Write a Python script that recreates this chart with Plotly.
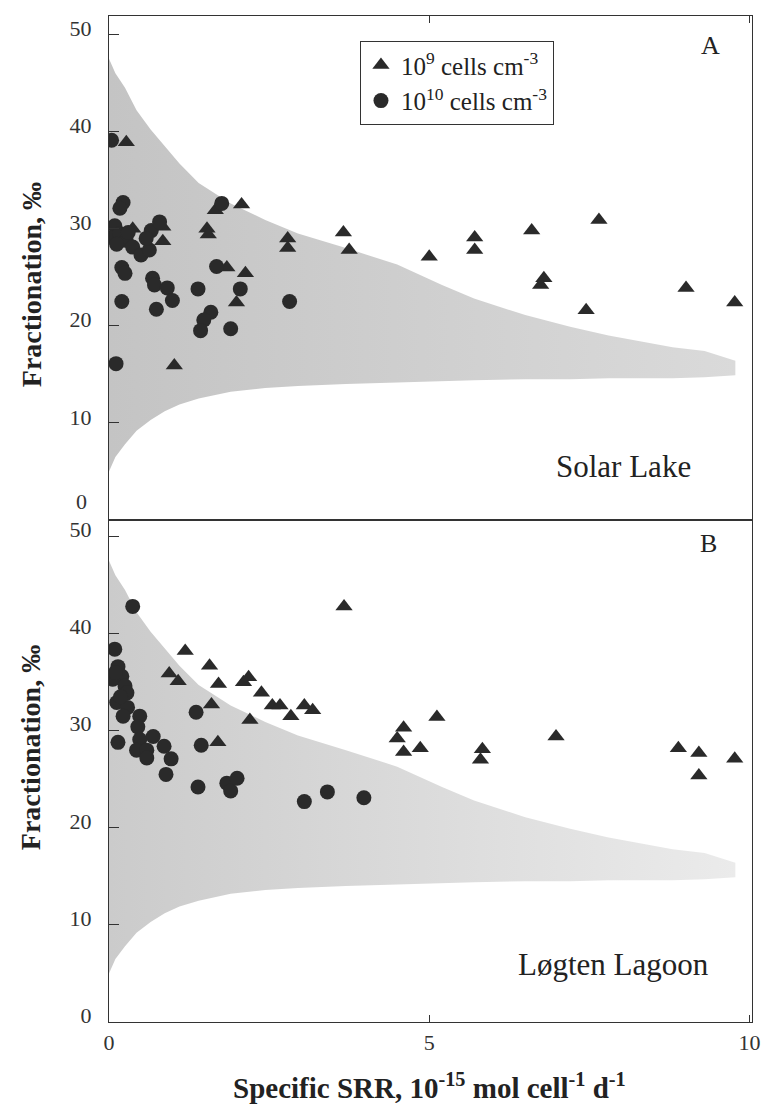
import plotly.graph_objects as go
from plotly.subplots import make_subplots

# ---- Solar Lake (panel A) ----
solar_tri_x = [0.27, 1.66, 2.07, 1.53, 1.55, 0.84, 0.84, 0.37, 1.84, 2.13, 1.99, 2.79, 2.79,
               3.66, 3.75, 5.0, 5.71, 5.71, 6.6, 7.65, 6.79, 6.74, 7.45, 9.01, 9.77, 1.02]
solar_tri_y = [38.9, 31.9, 32.5, 30.0, 29.4, 30.2, 28.7, 30.0, 26.0, 25.4, 22.4, 29.0, 28.0,
               29.6, 27.8, 27.1, 29.1, 27.8, 29.8, 30.9, 24.9, 24.2, 21.6, 23.9, 22.4, 15.9]
solar_circ_x = [0.04, 0.22, 0.17, 0.09, 0.06, 0.17, 0.27, 0.37, 0.5, 0.63, 0.66, 0.79, 0.58,
                0.2, 0.25, 0.68, 0.71, 0.91, 0.99, 0.2, 0.74, 1.39, 1.59, 1.48, 1.43, 1.90,
                2.05, 1.68, 1.76, 2.82, 0.11, 0.12, 0.3]
solar_circ_y = [39.1, 32.7, 32.1, 30.3, 29.1, 29.5, 28.8, 28.1, 27.3, 27.8, 29.8, 30.7, 29.0,
                26.0, 25.4, 24.9, 24.2, 23.9, 22.6, 22.5, 21.7, 23.8, 21.4, 20.6, 19.5, 19.7,
                23.8, 26.1, 32.6, 22.5, 16.1, 28.4, 29.6]

# ---- Løgten Lagoon (panel B) ----
logten_tri_x = [1.19, 0.94, 1.08, 1.57, 1.71, 1.6, 2.1, 2.18, 2.38, 2.2, 2.55, 2.67, 2.84,
                3.05, 3.18, 1.7, 3.67, 4.6, 4.5, 4.6, 4.86, 5.12, 5.83, 5.8, 6.98,
                8.89, 9.21, 9.21, 9.77]
logten_tri_y = [38.2, 35.9, 35.1, 36.7, 34.8, 32.7, 35.0, 35.5, 33.9, 31.1, 32.6, 32.6, 31.5,
                32.6, 32.1, 28.8, 42.8, 30.3, 29.2, 27.8, 28.2, 31.4, 28.1, 27.0, 29.4,
                28.2, 27.7, 25.4, 27.1]
logten_circ_x = [0.37, 0.09, 0.14, 0.2, 0.06, 0.25, 0.28, 0.12, 0.29, 0.22, 0.48, 0.45, 0.48,
                 0.43, 0.59, 0.59, 0.14, 0.69, 0.86, 0.97, 0.89, 1.36, 1.44, 1.39, 1.84, 1.9,
                 2.0, 3.05, 3.41, 3.98, 0.1, 0.18]
logten_circ_y = [42.8, 38.4, 36.6, 35.6, 35.3, 34.6, 33.9, 32.9, 32.4, 31.5, 31.5, 30.4, 29.1,
                 28.0, 28.0, 27.2, 28.8, 29.4, 28.4, 27.1, 25.5, 31.9, 28.5, 24.2, 24.6, 23.8,
                 25.1, 22.7, 23.7, 23.1, 36.0, 33.5]

# ---- model envelope (shaded band) ----
band_x = [0, 0.1, 0.25, 0.43, 0.65, 0.87, 1.1, 1.4, 1.9, 2.44, 2.95, 3.7, 4.5, 5.2, 5.7,
          6.5, 7.2, 7.8, 8.8, 9.3, 9.78]
band_upper = [47.5, 46.0, 44.5, 42.2, 40.2, 38.5, 36.7, 34.7, 32.6, 30.9, 29.5, 28.0, 26.3,
              24.2, 22.8, 21.1, 19.9, 19.0, 17.8, 17.4, 16.4]
band_lower = [5.0, 6.5, 7.8, 9.2, 10.3, 11.2, 11.9, 12.5, 13.2, 13.6, 13.8, 14.0, 14.2,
              14.3, 14.4, 14.5, 14.5, 14.6, 14.6, 14.7, 14.9]

x_ticks = [0, 5, 10]
y_ticks = [0, 10, 20, 30, 40, 50]
# panel A leaves its zero label to a separate text placed just above the shared border
y_ticktext_a = ["" if v == 0 else str(v) for v in y_ticks]
y_ticktext_b = [str(v) for v in y_ticks]

INK = "#2a2a2a"
FONT = "Liberation Serif, Times New Roman, serif"

fig = make_subplots(rows=2, cols=1, vertical_spacing=0)

poly_x = band_x + band_x[::-1]
poly_y = band_upper + band_lower[::-1]
for row, grad in ((1, [[0, "#c4c4c4"], [1, "#dadada"]]), (2, [[0, "#cbcbcb"], [1, "#ebebeb"]])):
    fig.add_trace(go.Scatter(x=poly_x, y=poly_y, mode="lines", fill="toself",
                             line=dict(width=0, color="rgba(0,0,0,0)"),
                             fillgradient=dict(type="horizontal", colorscale=grad),
                             showlegend=False, hoverinfo="skip"), row=row, col=1)

tri_name = "10<sup>9</sup> cells cm<sup>-3</sup>"
circ_name = "10<sup>10</sup> cells cm<sup>-3</sup>"

fig.add_trace(go.Scatter(x=solar_tri_x, y=solar_tri_y, mode="markers", name=tri_name,
                         marker=dict(symbol="triangle-up", size=15, color=INK)), row=1, col=1)
fig.add_trace(go.Scatter(x=solar_circ_x, y=solar_circ_y, mode="markers", name=circ_name,
                         marker=dict(symbol="circle", size=15, color=INK)), row=1, col=1)
fig.add_trace(go.Scatter(x=logten_tri_x, y=logten_tri_y, mode="markers", showlegend=False,
                         marker=dict(symbol="triangle-up", size=15, color=INK)), row=2, col=1)
fig.add_trace(go.Scatter(x=logten_circ_x, y=logten_circ_y, mode="markers", showlegend=False,
                         marker=dict(symbol="circle", size=15, color=INK)), row=2, col=1)

axis_common = dict(showline=True, linecolor="#333", linewidth=1.2, mirror=True,
                   showgrid=False, zeroline=False, ticks="inside",
                   tickcolor="#333", tickwidth=1.2,
                   tickfont=dict(family=FONT, size=22, color="#333"))

fig.update_layout(
    width=771, height=1108,
    margin=dict(l=109, r=11, t=16, b=86),
    paper_bgcolor="white", plot_bgcolor="white",
    font=dict(family=FONT, color="#222"),
    xaxis=dict(axis_common, range=[0, 10.04], tickvals=x_ticks, side="top",
               showticklabels=False, ticklen=7, domain=[0, 1]),
    xaxis2=dict(axis_common, range=[0, 10.04], tickvals=x_ticks, ticklen=7,
                ticklabelstandoff=0, domain=[0, 1]),
    yaxis=dict(axis_common, range=[0, 51.9], tickvals=y_ticks, ticktext=y_ticktext_a,
               ticklen=10, ticklabelstandoff=12, ticklabelshift=-6, domain=[0.499, 1]),
    yaxis2=dict(axis_common, range=[0, 51.7], tickvals=y_ticks, ticktext=y_ticktext_b,
                ticklen=10, ticklabelstandoff=12, ticklabelshift=-7, domain=[0, 0.499]),
    legend=dict(x=0.39, y=0.975, xanchor="left", yanchor="top",
                bordercolor="#333", borderwidth=1.2, bgcolor="white",
                font=dict(family=FONT, size=25, color="#222"),
                itemwidth=30, tracegroupgap=0),
)

# zero label of panel A, lifted clear of panel B's "50"
fig.add_annotation(text=str(y_ticks[0]), x=-0.0307, y=y_ticks[0], xref="paper", yref="y",
                   yshift=19, showarrow=False, xanchor="right", yanchor="middle",
                   font=dict(family=FONT, size=22, color="#333"))

notes = [
    dict(text="A", x=0.935, y=0.971, size=26),
    dict(text="B", x=0.932, y=0.476, size=26),
    dict(text="Solar Lake", x=0.80, y=0.552, size=31),
    dict(text="Løgten Lagoon", x=0.785, y=0.0567, size=31),
]
for n in notes:
    fig.add_annotation(text=n["text"], x=n["x"], y=n["y"], xref="paper", yref="paper",
                       showarrow=False, xanchor="center", yanchor="middle",
                       font=dict(family=FONT, size=n["size"], color="#222"))

for yc in (0.7326, 0.2724):
    fig.add_annotation(text="<b>Fractionation, ‰</b>", x=-0.121, y=yc, xref="paper",
                       yref="paper", textangle=-90, showarrow=False,
                       xanchor="center", yanchor="middle",
                       font=dict(family=FONT, size=28, color="#222"))

fig.add_annotation(text="<b>Specific SRR, 10<sup>-15</sup> mol cell<sup>-1</sup> d<sup>-1</sup></b>",
                   x=0.498, y=-0.0636, xref="paper", yref="paper", showarrow=False,
                   xanchor="center", yanchor="middle",
                   font=dict(family=FONT, size=29, color="#222"))

fig.write_html("out.html")
